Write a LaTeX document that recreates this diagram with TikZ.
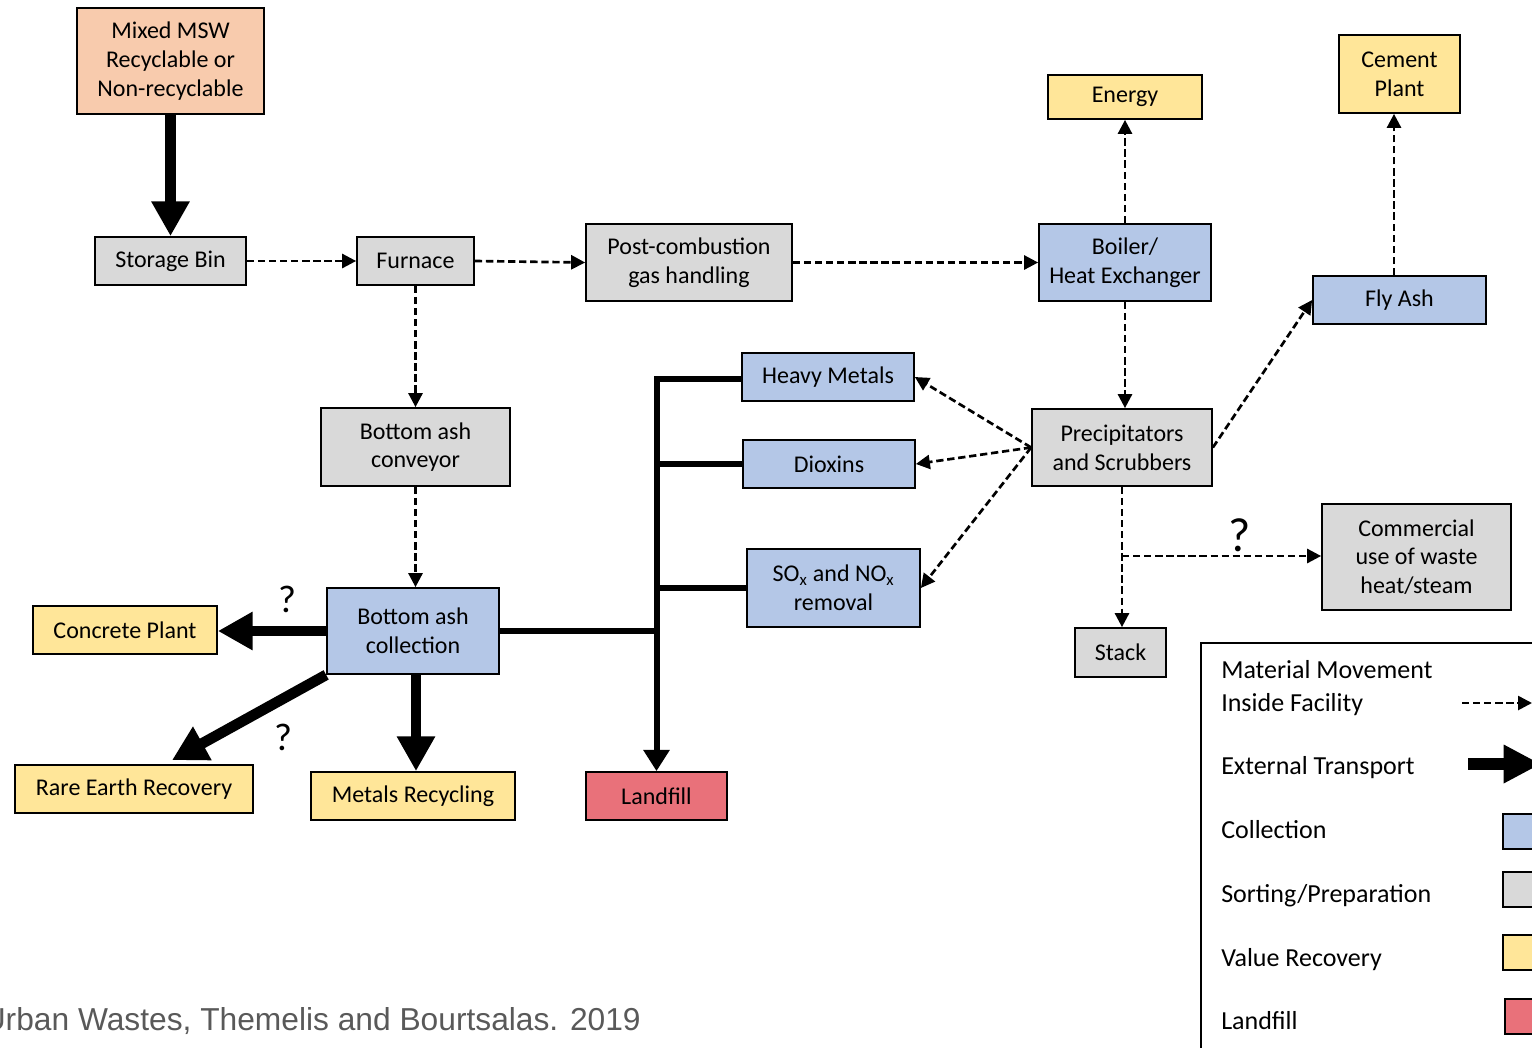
\documentclass[tikz,border=0pt]{standalone}
\usepackage{fontspec}
\setmainfont{Carlito}
\newfontfamily\citefont{Liberation Sans}
\usetikzlibrary{arrows.meta}
\definecolor{cpeach}{HTML}{F8CBAD}
\definecolor{cgray}{HTML}{D9D9D9}
\definecolor{cblue}{HTML}{B4C7E7}
\definecolor{cyellow}{HTML}{FFE699}
\definecolor{cred}{HTML}{E9717A}
\definecolor{citegray}{HTML}{595959}
\tikzset{
  box/.style={draw=black, line width=1.3pt, inner sep=2pt, align=center, font=\fontsize{18}{21.5}\selectfont},
  sz/.style 2 args={minimum width=#1*0.75pt, minimum height=#2*0.75pt},
  peachbox/.style={box, fill=cpeach},
  graybox/.style={box, fill=cgray},
  bluebox/.style={box, fill=cblue},
  yellowbox/.style={box, fill=cyellow},
  redbox/.style={box, fill=cred},
  flow/.style={line width=2pt, dash pattern=on 5.5pt off 2.8pt, -{Triangle[length=10.5pt,width=10.5pt]}},
  ext/.style={line width=8pt, -{Triangle[length=26pt,width=27pt]}},
  branch/.style={line width=4.5pt, line join=miter},
  qmark/.style={inner sep=0pt, font=\fontsize{29}{31}\selectfont},
  legtext/.style={inner sep=0pt, anchor=base west, align=left, font=\fontsize{19.5}{24.5}\selectfont},
  swatch/.style={draw=black, line width=1.3pt, minimum width=44*0.75pt, minimum height=35*0.75pt, inner sep=0pt, anchor=north west},
}
\begin{document}
\begin{tikzpicture}[x=0.75pt,y=-0.75pt]
\useasboundingbox (0,0) rectangle (1532,1047);
\clip (0,0) rectangle (1532,1047);

% nodes
\node[peachbox, sz={187}{106}] (msw) at (170.5,61) {Mixed MSW\\Recyclable or\\Non-recyclable};
\node[graybox, sz={151}{48}] (bin) at (170.5,261) {Storage Bin};
\node[graybox, sz={117}{48}] (furn) at (415.5,261) {Furnace};
\node[graybox, sz={206}{77}] (post) at (689,262.5) {Post-combustion\\gas handling};
\node[bluebox, sz={172}{77}] (boil) at (1125,262.5) {Boiler/\\Heat Exchanger};
\node[yellowbox, sz={154}{44}] (energy) at (1125,97) {Energy};
\node[yellowbox, sz={121}{78}] (cement) at (1399.5,74) {Cement\\Plant};
\node[bluebox, sz={173}{48}] (fly) at (1399.5,300) {Fly Ash};
\node[bluebox, sz={172}{48}] (hm) at (828,377) {Heavy Metals};
\node[bluebox, sz={172}{48}] (diox) at (829,464) {Dioxins};
\node[bluebox, sz={173}{78}] (sox) at (833.5,588) {SO\textsubscript{x} and NO\textsubscript{x}\\removal};
\node[graybox, sz={180}{77}] (prec) at (1122,447.5) {Precipitators\\and Scrubbers};
\node[graybox, sz={189}{106}] (comm) at (1416.5,557) {Commercial\\use of waste\\heat/steam};
\node[graybox, sz={91}{49}] (stack) at (1120.5,652.5) {Stack};
\node[graybox, sz={189}{78}] (conv) at (415.5,447) {Bottom ash\\conveyor};
\node[bluebox, sz={172}{86}] (coll) at (413,631) {Bottom ash\\collection};
\node[yellowbox, sz={184}{48}] (concrete) at (125,630) {Concrete Plant};
\node[yellowbox, sz={238}{48}] (rare) at (134,789) {Rare Earth Recovery};
\node[yellowbox, sz={204}{48}] (metals) at (413,796) {Metals Recycling};
\node[redbox, sz={141}{48}] (landfill) at (656.5,796) {Landfill};

% internal flows (dashed)
\draw[flow] (bin.east) -- (furn.west);
\draw[flow] (furn.east) -- (post.west);
\draw[flow] (post.east) -- (boil.west);
\draw[flow] (boil.north) -- (energy.south);
\draw[flow] (boil.south) -- (prec.north -| boil.south);
\draw[flow] (prec.east) -- (fly.west);
\draw[flow] (fly.north -| cement.south) ++(-5.5,0) coordinate (flyup) -- (flyup |- cement.south);
\draw[flow] (prec.west) -- (hm.east);
\draw[flow] (prec.west) -- (diox.east);
\draw[flow] (prec.west) -- (sox.east);
\draw[flow] (prec.south) -- (prec.south |- stack.north);
\coordinate (split) at (1122,556);
\draw[flow] (split) -- (split -| comm.west);
\draw[flow] (furn.south) -- (conv.north -| furn.south);
\draw[flow] (conv.south) -- (coll.north -| conv.south);

% external transport (thick)
\draw[ext] (msw.south) -- (bin.north);
\draw[ext] (coll.west) -- (coll.west -| concrete.east);
\draw[ext] (coll.south west) -- ([xshift=28.5pt,yshift=3pt]rare.north);
\draw[ext] (coll.south -| 416,0) -- (metals.north -| 416,0);

% landfill network
\draw[branch, -{Triangle[length=16pt,width=19pt]}] ([yshift=-1.5pt]hm.west) -| (landfill.north);
\draw[branch] (diox.west) -- (diox.west -| landfill.north);
\draw[branch] (sox.west) -- (sox.west -| landfill.north);
\draw[branch] (coll.east) -- (coll.east -| landfill.north);

% question marks
\node[qmark] (q1) at (287,599) {?};
\node[qmark] (q2) at (283,737) {?};
\node[qmark, font=\fontsize{36}{38}\selectfont] (q3) at (1240,535) {?};

% legend
\coordinate (lgtr) at (1540,643);
\coordinate (lgtl) at (1201,643);
\coordinate (lgbl) at (1201,1055);
\draw[line width=1.5pt] (lgtr) -- (lgtl) -- (lgbl);
\node[legtext] (l1) at (1221,711) {Material Movement\\Inside Facility};
\node[legtext] (l2) at (1221,774.5) {External Transport};
\node[legtext] (l3) at (1221,838.5) {Collection};
\node[legtext] (l4) at (1221,902.5) {Sorting/Preparation};
\node[legtext] (l5) at (1221,966.5) {Value Recovery};
\node[legtext] (l6) at (1221,1029.5) {Landfill};
\coordinate (la1) at (1462,703);
\coordinate (la2) at (1532,703);
\draw[flow] (la1) -- (la2);
\coordinate (lb1) at (1468,764);
\coordinate (lb2) at (1541,764);
\draw[line width=9.5pt, -{Triangle[length=28pt,width=27pt]}] (lb1) -- (lb2);
\node[swatch, fill=cblue] (s1) at (1502,813) {};
\node[swatch, fill=cgray] (s2) at (1502,871) {};
\node[swatch, fill=cyellow] (s3) at (1502,934) {};
\node[swatch, fill=cred] (s4) at (1504,998) {};

% citation
\node[anchor=east, inner sep=0pt, text=citegray, font=\citefont\fontsize{23.8}{25}\selectfont] (cite) at (641,1021) {Urban Wastes, Themelis and Bourtsalas. 2019};
\end{tikzpicture}
\end{document}
